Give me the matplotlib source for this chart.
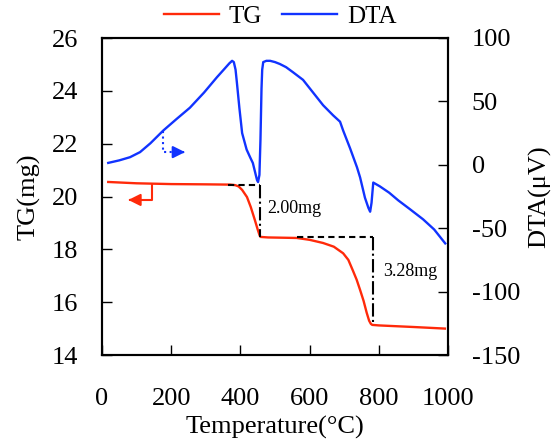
import numpy as np
import matplotlib
matplotlib.use("Agg")
import matplotlib.pyplot as plt

plt.rcParams['font.family'] = ['Liberation Serif', 'DejaVu Serif']
plt.rcParams['axes.unicode_minus'] = False

# TG curve (mg) vs temperature (C)
temp_tg = [18, 100, 200, 300, 370, 385, 395, 405, 419, 430, 442, 450, 455, 458,
           480, 563, 600, 639, 670, 697, 712, 725, 736, 746, 756, 765, 772, 777,
           781, 800, 900, 991]
tg_mg = [20.55, 20.5, 20.47, 20.46, 20.45, 20.43, 20.38, 20.25, 19.98, 19.6, 19.1,
         18.75, 18.55, 18.47, 18.45, 18.43, 18.36, 18.24, 18.1, 17.85, 17.6, 17.2,
         16.85, 16.46, 16.05, 15.6, 15.3, 15.18, 15.14, 15.12, 15.06, 15.0]

# DTA curve (uV) vs temperature (C)
temp_dta = [18, 50, 81, 110, 140, 177, 215, 254, 295, 332, 355, 368, 376, 381,
            386, 390, 397, 405, 418, 428, 436, 448, 451, 455, 458, 461, 463, 466,
            475, 486, 500, 514, 532, 552, 581, 610, 639, 668, 688, 697, 717, 737,
            746, 760, 770, 775, 779, 784, 803, 830, 856, 890, 928, 960, 992]
dta_uv = [1.5, 3.5, 6, 10, 17, 27, 36, 45, 57, 69, 76, 80, 82, 81,
          75, 64.5, 45, 25, 12, 6, 1.4, -12, -13.6, -8, 20, 60, 75, 81,
          82, 82, 81, 79.5, 77, 73, 67, 57, 47, 39, 34, 27, 13, -2,
          -10, -26, -34, -37, -30, -14, -17, -22, -28, -35, -43, -51, -62]

# weight-loss step markers
step_t = [(364, 457), (563, 783)]
step_lvl = [(20.45, 18.45), (18.45, 15.15)]
step_txt = ['2.00mg', '3.28mg']
txt_pos = [(477, 19.55), (812, 17.15)]

fig = plt.figure(figsize=(5.6, 4.46), dpi=100)
fig.subplots_adjust(left=102/560, right=448/560, top=1-38/446, bottom=1-355/446)
ax = fig.add_subplot(111)
ax2 = ax.twinx()

l1, = ax.plot(temp_tg, tg_mg, color='#ff2a0a', lw=1.7, label='TG')
l2, = ax2.plot(temp_dta, dta_uv, color='#1133ff', lw=1.7, label='DTA')

for (t0, t1), (y0, y1), s, (tx, ty) in zip(step_t, step_lvl, step_txt, txt_pos):
    ax.plot([t0, t1], [y0, y0], color='black', ls=(0, (3, 2)), lw=1.5)
    ax.plot([t1, t1], [y0, y1], color='black', ls='-.', lw=1.5)
    ax.text(tx, ty, s, fontsize=13, va='center', ha='left')

# direction arrows
ax.plot([145, 145, 85], [20.45, 19.87, 19.87], color='#ff2a0a', lw=1.5)
ax.annotate('', xy=(68, 19.87), xytext=(90, 19.87),
            arrowprops=dict(arrowstyle='-|>', color='#ff2a0a', lw=1.5, mutation_scale=18))
ax2.plot([177, 177, 225], [27, 10, 10], color='#1133ff', lw=1.5, ls=':')
ax2.annotate('', xy=(248, 10), xytext=(225, 10),
             arrowprops=dict(arrowstyle='-|>', color='#1133ff', lw=1.5, mutation_scale=18))

ax.set_xlim(0, 1000)
ax.set_ylim(14, 26)
ax2.set_ylim(-150, 100)
ax.set_xticks([0, 200, 400, 600, 800, 1000])
ax.set_yticks(np.arange(14, 27, 2))
ax2.set_yticks(np.arange(-150, 101, 50))

ax.tick_params(axis='x', direction='in', length=7, width=1, pad=24, labelsize=19)
ax.tick_params(axis='y', direction='in', length=7, width=1, pad=17, labelsize=19)
ax2.tick_params(axis='y', direction='in', length=7, width=1, pad=17, labelsize=19)
for a in (ax, ax2):
    for sp in a.spines.values():
        sp.set_linewidth(1.5)

ax.set_xlabel('Temperature(\u00b0C)', fontsize=19, labelpad=4)
ax.set_ylabel('TG(mg)', fontsize=19, labelpad=8)
ax2.set_ylabel('DTA(\u03bcV)', fontsize=19, labelpad=6)

fig.legend([l1, l2], ['TG', 'DTA'], loc='center', bbox_to_anchor=(0.5, 0.963),
           ncol=2, frameon=False, fontsize=18, handlelength=2.2,
           handletextpad=0.4, columnspacing=0.8)

fig.savefig('out.png', dpi=100)
